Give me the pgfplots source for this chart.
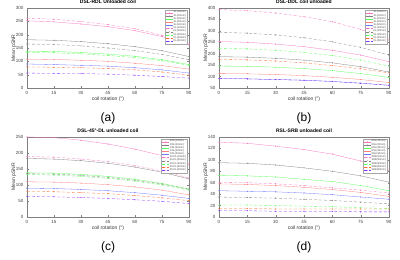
\documentclass[border=0pt]{standalone}
\usepackage{pgfplots}
\pgfplotsset{compat=1.18}
\usepackage{pgfplotstable}
\usepackage{fontspec}
\setmainfont{Liberation Sans}

% columns: solid magenta, black, green, red, blue, then dashed ones
\pgfplotstableread{
x  a  b  c  d  e  f  g  h  i  j
0  252 181 138 108 90 262 165 133 79 56
15 248 179 137 107 88 258 163 132 78 55
30 240 174 133 104 85 249 158 128 76 54
45 230 166 127 100 82 238 150 122 73 52
60 215 155 119 93 76 222 140 114 68 48
75 193 140 106 84 68 198 126 102 60 43
90 162 118 88 71 56 165 106 85 48 37
}\tblA
\pgfplotstableread{
x  a  b  c  d  e  f  g  h  i  j
0  253 187 146 113 91 393 293 224 175 91
15 250 185 145 112 90 388 290 221 173 90
30 242 180 141 109 87 378 282 215 168 87
45 231 172 135 104 84 362 270 206 160 84
60 215 160 126 97 79 340 252 192 148 78
75 194 143 113 87 71 306 228 172 134 71
90 165 120 96 74 62 260 194 146 116 62
}\tblB
\pgfplotstableread{
x  a  b  c  d  e  f  g  h  i  j
0  250 183 138 110 90 189 135 133 80 64
15 248 181 137 109 89 187 134 131 79 63
30 240 176 133 106 86 181 130 127 76 61
45 228 168 127 101 82 173 124 121 73 58
60 212 156 118 94 76 161 115 112 67 54
75 192 140 105 84 68 144 103 100 60 49
90 165 119 87 69 58 122 87 84 51 42
}\tblC
\pgfplotstableread{
x  a  b  c  d  e  f  g  h  i  j
0  131 95 73 58 46 61 35 21 15 11
15 129 94 72 57 45 60 34 21 15 11
30 124 91 70 55 44 58 33 20 14 10
45 118 86 66 52 42 55 31 19 14 10
60 110 80 62 48 39 51 29 18 14 10
75 98 72 55 43 35 47 26 16 14 9
90 82 61 46 36 31 42 23 15 14 9
}\tblD

\pgfplotsset{
  panel/.style={
    scale only axis, width=#1, height=80pt,
    xmin=0, xmax=90, xtick={0,15,...,90},
    ticklabel style={font=\fontsize{4.5}{5}\selectfont, text=black!75},
    /pgf/number format/assume math mode=true,
    tick align=inside, major tick length=1.5pt,
    axis line style={black!50, line width=0.3pt},
    tick style={black!50, line width=0.3pt},
    title style={font=\bfseries\fontsize{5}{6}\selectfont, yshift=-5pt},
    label style={font=\fontsize{5}{6}\selectfont, text=black!80},
    xlabel={coil rotation  (°)},
    ylabel={Mean pSNR},
    xlabel style={yshift=5pt},
    ylabel style={yshift=-7pt},
    every axis plot/.append style={line width=0.3pt, mark size=0.35pt},
    legend style={font=\fontsize{2.6}{3}\selectfont, at={(0.99,0.98)}, anchor=north east,
      row sep=-1.2pt, inner sep=0.8pt, draw=black!35, line width=0.2pt,
      text=black!70, nodes={inner sep=0.5pt}},
    legend cell align=left,
    legend image post style={scale=0.4},
    cycle list={
      {magenta!55, mark=*},
      {black!50, mark=*},
      {green!65, mark=*},
      {red!50, mark=*},
      {blue!55, mark=*},
      {magenta!55, densely dashed, mark=*},
      {black!50, densely dashed, mark=*},
      {green!65, densely dashed, mark=*},
      {red!45!orange!80, densely dashed, mark=*},
      {blue!55!magenta!80, densely dashed, mark=*}
    },
  },
}

\begin{document}
\begin{tikzpicture}
\path[use as bounding box] (0pt,0pt) rectangle (400pt,260pt);

\begin{axis}[panel=162pt, at={(27pt,172pt)}, anchor=south west,
  ymin=0, ymax=300, ytick={0,50,...,300},
  title={DSL-RDL Unloaded coil}]
  \pgfplotsinvokeforeach{a,b,c,d,e,f,g,h,i,j}{\addplot table[x=x,y=#1] {\tblA};}
  \legend{SL(10mm),SL(20mm),SL(30mm),SL(40mm),SL(50mm),DL(10mm),DL(20mm),DL(30mm),DL(40mm),DL(50mm)}
\end{axis}
\node[font=\fontsize{12}{14}\selectfont] at (108pt,142pt) {(a)};

\begin{axis}[panel=170pt, at={(219pt,172pt)}, anchor=south west,
  ymin=50, ymax=400, ytick={50,100,...,400},
  title={DSL-DDL coil unloaded}]
  \pgfplotsinvokeforeach{a,b,c,d,e,f,g,h,i,j}{\addplot table[x=x,y=#1] {\tblB};}
  \legend{SL(10mm),SL(20mm),SL(30mm),SL(40mm),SL(50mm),DL(10mm),DL(20mm),DL(30mm),DL(40mm),DL(50mm)}
\end{axis}
\node[font=\fontsize{12}{14}\selectfont] at (304pt,142pt) {(b)};

\begin{axis}[panel=162pt, at={(27pt,43pt)}, anchor=south west,
  ymin=0, ymax=250, ytick={0,50,...,250},
  title={DSL-45°-DL unloaded coil}]
  \pgfplotsinvokeforeach{a,b,c,d,e,f,g,h,i,j}{\addplot table[x=x,y=#1] {\tblC};}
  \legend{DSL(10mm),DSL(20mm),DSL(30mm),DSL(40mm),DSL(50mm),45-DL(10mm),45-DL(20mm),45-DL(30mm),45-DL(40mm),45-DL(50mm)}
\end{axis}
\node[font=\fontsize{12}{14}\selectfont] at (108pt,13pt) {(c)};

\begin{axis}[panel=170pt, at={(219pt,43pt)}, anchor=south west,
  ymin=0, ymax=140, ytick={0,20,...,140},
  title={RSL-SRB unloaded coil}]
  \pgfplotsinvokeforeach{a,b,c,d,e,f,g,h,i,j}{\addplot table[x=x,y=#1] {\tblD};}
  \legend{RSL(10mm),RSL(20mm),RSL(30mm),RSL(40mm),RSL(50mm),SRB(10mm),SRB(20mm),SRB(30mm),SRB(40mm),SRB(50mm)}
\end{axis}
\node[font=\fontsize{12}{14}\selectfont] at (304pt,13pt) {(d)};
\end{tikzpicture}
\end{document}
